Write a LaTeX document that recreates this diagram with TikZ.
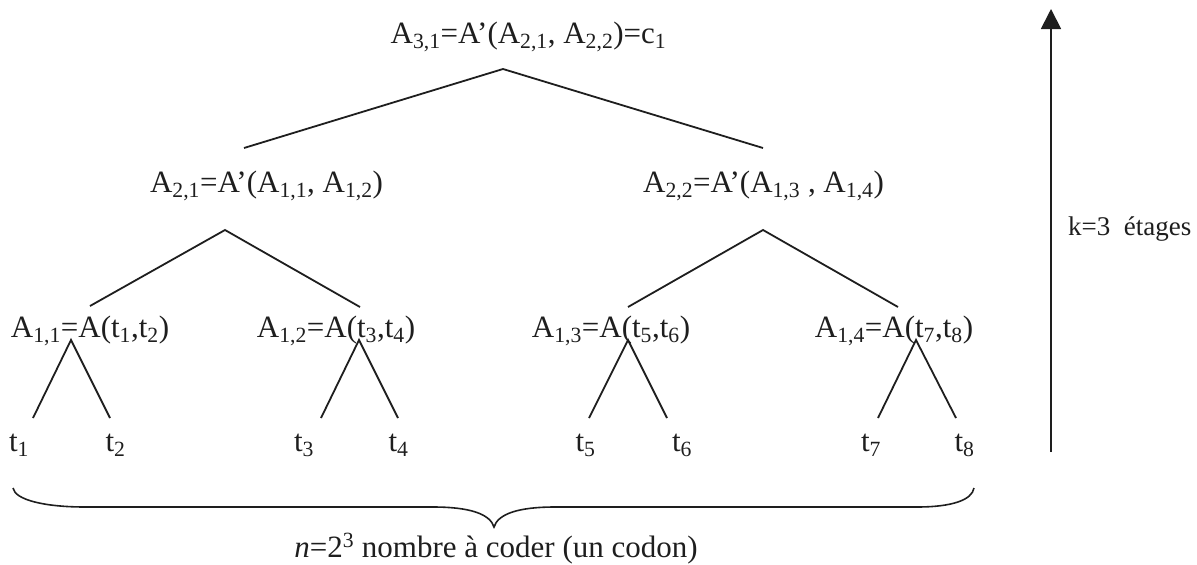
\documentclass[tikz,border=0pt]{standalone}
\usepackage{fontspec}
\setmainfont{Liberation Serif}
\usetikzlibrary{arrows.meta}
\definecolor{ink}{HTML}{1E1E1E}
\newcommand{\sbs}[1]{\textsubscript{#1}}
\begin{document}
\begin{tikzpicture}[x=1pt,y=-1pt,
  lbl/.style={anchor=base,inner sep=0pt,text=ink,font=\fontsize{31}{36}\selectfont},
  edge/.style={draw=ink,line width=1.8pt}]
\useasboundingbox (0,0) rectangle (1197,565);
% labels
\node[lbl] (r) at (528.5,43) {A\sbs{3,1}=A’(A\sbs{2,1}, A\sbs{2,2})=c\sbs{1}};
\node[lbl] (a21) at (266.5,192) {A\sbs{2,1}=A’(A\sbs{1,1}, A\sbs{1,2})};
\node[lbl] (a22) at (763.5,192) {A\sbs{2,2}=A’(A\sbs{1,3} , A\sbs{1,4})};
\node[lbl] (a11) at (90,337) {A\sbs{1,1}=A(t\sbs{1},t\sbs{2})};
\node[lbl] (a12) at (336,337) {A\sbs{1,2}=A(t\sbs{3},t\sbs{4})};
\node[lbl] (a13) at (611,337) {A\sbs{1,3}=A(t\sbs{5},t\sbs{6})};
\node[lbl] (a14) at (894,337) {A\sbs{1,4}=A(t\sbs{7},t\sbs{8})};
\node[lbl] (t1) at (19,451) {t\sbs{1}};
\node[lbl] (t2) at (115.5,451) {t\sbs{2}};
\node[lbl] (t3) at (304,451) {t\sbs{3}};
\node[lbl] (t4) at (398.5,451) {t\sbs{4}};
\node[lbl] (t5) at (585.5,451) {t\sbs{5}};
\node[lbl] (t6) at (682,451) {t\sbs{6}};
\node[lbl] (t7) at (871,451) {t\sbs{7}};
\node[lbl] (t8) at (964.5,451) {t\sbs{8}};
\node[lbl,anchor=base west,font=\fontsize{27}{32}\selectfont] (k) at (1068,235) {k=3\ \ étages};
\node[lbl,font=\fontsize{31}{36}\selectfont] (n) at (496,557) {\textit{n}=2\textsuperscript{3} nombre à coder (un codon)};
% connector end points
\coordinate (r0) at (503,69);
\coordinate (r1) at (244,148);
\coordinate (r2) at (763,148);
\coordinate (p21) at (225,230);
\coordinate (p21a) at (90,306);
\coordinate (p21b) at (360,307);
\coordinate (p22) at (763,230);
\coordinate (p22a) at (628,307);
\coordinate (p22b) at (898,307);
\coordinate (p11) at (71,340);
\coordinate (q1) at (33,418);
\coordinate (q2) at (110,418);
\coordinate (p12) at (359,340);
\coordinate (q3) at (321,418);
\coordinate (q4) at (398,418);
\coordinate (p13) at (628,340);
\coordinate (q5) at (589,418);
\coordinate (q6) at (667,418);
\coordinate (p14) at (916,340);
\coordinate (q7) at (878,418);
\coordinate (q8) at (956,418);
% tree edges
\draw[edge] (r1) -- (r0) -- (r2);
\draw[edge] (p21a) -- (p21) -- (p21b);
\draw[edge] (p22a) -- (p22) -- (p22b);
\draw[edge] (q1) -- (p11) -- (q2);
\draw[edge] (q3) -- (p12) -- (q4);
\draw[edge] (q5) -- (p13) -- (q6);
\draw[edge] (q7) -- (p14) -- (q8);
% brace
\coordinate (bl) at (13,488);
\coordinate (bm) at (494,527);
\coordinate (br) at (974,488);
\draw[edge,line width=1.6pt] (bl) .. controls (15,500) and (45,507) .. (85,507) -- (433,507)
  .. controls (470,507) and (490,514) .. (bm)
  .. controls (498,514) and (518,507) .. (555,507) -- (917,507)
  .. controls (952,507) and (972,500) .. (br);
% vertical arrow
\coordinate (ab) at (1051,452);
\coordinate (at) at (1051,9);
\draw[edge,-{Triangle[width=20pt,length=20pt]},fill=ink] (ab) -- (at);
\end{tikzpicture}
\end{document}
